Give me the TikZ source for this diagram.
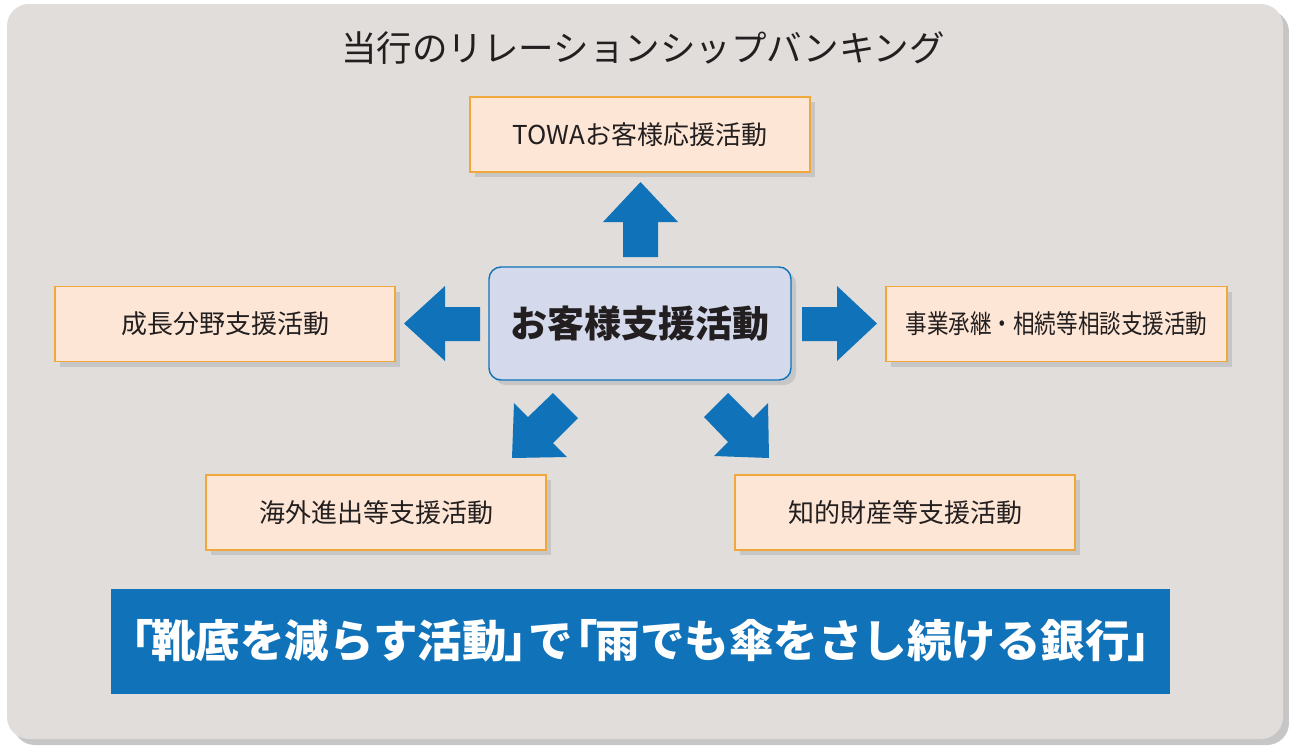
\documentclass[tikz,border=0pt]{standalone}
\usepackage{fontspec}
\usetikzlibrary{shadows}
\newfontfamily\jp{Noto Sans CJK JP}
\definecolor{bgfill}{RGB}{225,221,219}
\definecolor{shadowgray}{RGB}{198,198,198}
\definecolor{peach}{RGB}{253,230,213}
\definecolor{orangeline}{RGB}{240,168,60}
\definecolor{lightblue}{RGB}{212,218,236}
\definecolor{mainblue}{RGB}{16,114,185}
\definecolor{txt}{RGB}{35,31,32}
\tikzset{
  actbox/.style={draw=orangeline, line width=1.4pt, fill=peach, rectangle,
    minimum width=340pt, minimum height=75pt, inner sep=0pt, text=txt,
    font=\jp\fontsize{26}{30}\selectfont,
    drop shadow={shadow xshift=5pt, shadow yshift=-5pt, fill=shadowgray, opacity=1}},
  corebox/.style={draw=mainblue, line width=1.4pt, fill=lightblue, rectangle, rounded corners=12pt,
    minimum width=302pt, minimum height=113pt, inner sep=0pt, text=txt,
    font=\jp\bfseries\fontsize{37}{42}\selectfont,
    drop shadow={shadow xshift=5pt, shadow yshift=-5pt, fill=shadowgray, opacity=1}},
  banner/.style={fill=mainblue, rectangle, minimum width=1059pt, minimum height=105pt,
    inner sep=0pt, text=white, font=\jp\bfseries\fontsize{44.5}{50}\selectfont},
  blockarrow/.style={fill=mainblue, draw=none},
}
\begin{document}
\begin{tikzpicture}[x=1pt,y=-1pt]
\useasboundingbox (0,0) rectangle (1289,745);
% background panel with shadow
\fill[shadowgray] (13,10) [rounded corners=22pt] rectangle (1289,745);
\fill[bgfill] (7,4) [rounded corners=22pt] rectangle (1283,739);
% title
\node[text=txt, font=\jp\fontsize{35.5}{40}\selectfont] (title) at (643,48) {当行のリレーションシップバンキング};
% boxes
\node[corebox] (core) at (640,323.5) {お客様支援活動};
\node[actbox] (top) at (640,134.5) {TOWAお客様応援活動};
\node[actbox] (left) at (225,324) {成長分野支援活動};
\node[actbox, minimum width=341pt] (right) at (1056.5,324) {\scalebox{0.83}[1]{事業承継・相続等相談支援活動}};
\node[actbox] (bl) at (376,512.5) {海外進出等支援活動};
\node[actbox] (br) at (905,512.5) {知的財産等支援活動};
% block arrows
\fill[blockarrow] (623,257) -- (623,222) -- (603,222) -- (640.5,182) -- (678,222) -- (658,222) -- (658,257) -- cycle;
\fill[blockarrow] (480,307) -- (445,307) -- (445,286) -- (404,323.5) -- (445,361) -- (445,341) -- (480,341) -- cycle;
\fill[blockarrow] (802,307) -- (837,307) -- (837,286) -- (877,323.5) -- (837,361) -- (837,341) -- (802,341) -- cycle;
\fill[blockarrow] (553,393) -- (578,418) -- (553,443) -- (567,457) -- (512,458) -- (514,403) -- (528,417) -- cycle;
\fill[blockarrow] (728,393) -- (704,417) -- (728,442) -- (714,456) -- (769,458) -- (768,403) -- (753,418) -- cycle;
% banner
\node[banner] (slogan) at (640.5,641) {\kern-0.45em「\kern-0.05em靴底を減らす活動\kern-0.05em」\kern-0.45emで\kern-0.45em「\kern-0.05em雨でも傘をさし続ける銀行\kern-0.05em」\kern-0.45em};
\end{tikzpicture}
\end{document}
